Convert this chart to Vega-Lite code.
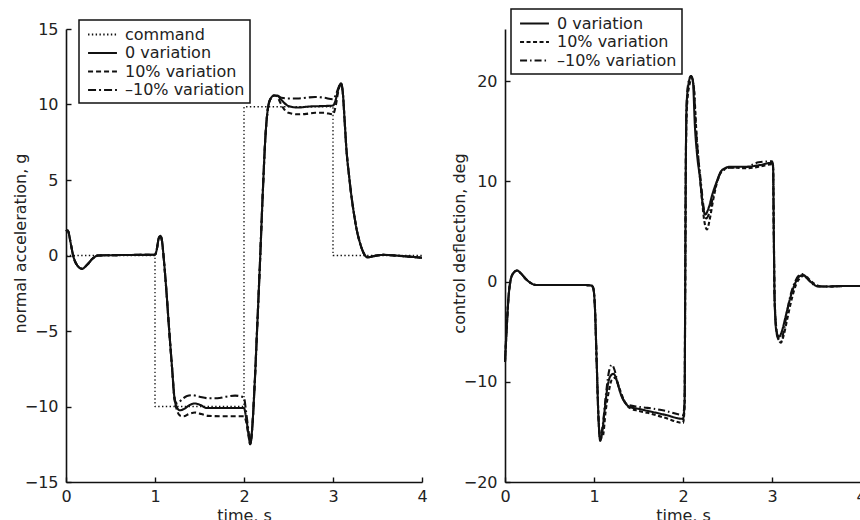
{
  "$schema": "https://vega.github.io/schema/vega-lite/v6.json",
  "padding": {"left": 12, "top": 8, "right": 0, "bottom": 0},
  "autosize": {"type": "pad"},
  "bounds": "flush",
  "spacing": 83,
  "datasets": {
    "cmd": [
      {"t": 0, "v": 0, "s": "command"}, {"t": 1, "v": 0, "s": "command"}, {"t": 1, "v": -10, "s": "command"}, {"t": 2, "v": -10, "s": "command"},
      {"t": 2, "v": 9.85, "s": "command"}, {"t": 3, "v": 9.85, "s": "command"}, {"t": 3, "v": 0, "s": "command"}, {"t": 4, "v": 0, "s": "command"}
    ],
    "accel": [
      {"t":0,"v":1.6,"s":"10% variation"},{"t":0.02,"v":1.65,"s":"10% variation"},{"t":0.05,"v":0.9,"s":"10% variation"},{"t":0.08,"v":0,"s":"10% variation"},{"t":0.12,"v":-0.6,"s":"10% variation"},{"t":0.18,"v":-0.88,"s":"10% variation"},{"t":0.24,"v":-0.6,"s":"10% variation"},{"t":0.3,"v":-0.2,"s":"10% variation"},{"t":0.36,"v":0,"s":"10% variation"},{"t":0.5,"v":0.02,"s":"10% variation"},{"t":0.8,"v":0.04,"s":"10% variation"},{"t":1.0,"v":0.05,"s":"10% variation"},{"t":1.02,"v":0.4,"s":"10% variation"},{"t":1.04,"v":1.1,"s":"10% variation"},{"t":1.06,"v":1.3,"s":"10% variation"},{"t":1.08,"v":0.9,"s":"10% variation"},{"t":1.1,"v":-0.3,"s":"10% variation"},{"t":1.13,"v":-2.5,"s":"10% variation"},{"t":1.16,"v":-5.0,"s":"10% variation"},{"t":1.19,"v":-7.3,"s":"10% variation"},{"t":1.22,"v":-9.5,"s":"10% variation"},
      {"t":1.25,"v":-10.3,"s":"10% variation"},{"t":1.28,"v":-10.6,"s":"10% variation"},{"t":1.32,"v":-10.65,"s":"10% variation"},{"t":1.38,"v":-10.5,"s":"10% variation"},{"t":1.45,"v":-10.4,"s":"10% variation"},{"t":1.52,"v":-10.5,"s":"10% variation"},{"t":1.6,"v":-10.62,"s":"10% variation"},{"t":1.8,"v":-10.65,"s":"10% variation"},{"t":2.0,"v":-10.65,"s":"10% variation"},{"t":2.02,"v":-10.9,"s":"10% variation"},{"t":2.05,"v":-11.9,"s":"10% variation"},
      {"t":2.07,"v":-12.5,"s":"10% variation"},{"t":2.09,"v":-11.6,"s":"10% variation"},{"t":2.12,"v":-8.5,"s":"10% variation"},{"t":2.15,"v":-4.5,"s":"10% variation"},{"t":2.18,"v":-0.4,"s":"10% variation"},{"t":2.21,"v":4.0,"s":"10% variation"},{"t":2.24,"v":7.8,"s":"10% variation"},{"t":2.27,"v":9.8,"s":"10% variation"},{"t":2.3,"v":10.4,"s":"10% variation"},{"t":2.34,"v":10.6,"s":"10% variation"},
      {"t":2.37,"v":10.55,"s":"10% variation"},{"t":2.41,"v":10.1,"s":"10% variation"},{"t":2.45,"v":9.7,"s":"10% variation"},{"t":2.5,"v":9.45,"s":"10% variation"},{"t":2.6,"v":9.35,"s":"10% variation"},{"t":2.7,"v":9.38,"s":"10% variation"},{"t":2.8,"v":9.45,"s":"10% variation"},{"t":2.9,"v":9.45,"s":"10% variation"},{"t":3.0,"v":9.35,"s":"10% variation"},{"t":3.03,"v":9.9,"s":"10% variation"},{"t":3.06,"v":10.9,"s":"10% variation"},
      {"t":3.09,"v":11.4,"s":"10% variation"},{"t":3.11,"v":10.8,"s":"10% variation"},{"t":3.13,"v":9.0,"s":"10% variation"},{"t":3.15,"v":7.1,"s":"10% variation"},{"t":3.18,"v":5.3,"s":"10% variation"},{"t":3.21,"v":3.8,"s":"10% variation"},{"t":3.24,"v":2.6,"s":"10% variation"},{"t":3.27,"v":1.6,"s":"10% variation"},{"t":3.3,"v":0.9,"s":"10% variation"},{"t":3.33,"v":0.35,"s":"10% variation"},{"t":3.36,"v":0,"s":"10% variation"},{"t":3.39,"v":-0.12,"s":"10% variation"},{"t":3.45,"v":-0.05,"s":"10% variation"},{"t":3.56,"v":0.04,"s":"10% variation"},{"t":3.8,"v":-0.05,"s":"10% variation"},{"t":4.0,"v":-0.15,"s":"10% variation"},

      {"t":0,"v":1.6,"s":"–10% variation"},{"t":0.02,"v":1.65,"s":"–10% variation"},{"t":0.05,"v":0.9,"s":"–10% variation"},{"t":0.08,"v":0,"s":"–10% variation"},{"t":0.12,"v":-0.6,"s":"–10% variation"},{"t":0.18,"v":-0.88,"s":"–10% variation"},{"t":0.24,"v":-0.6,"s":"–10% variation"},{"t":0.3,"v":-0.2,"s":"–10% variation"},{"t":0.36,"v":0,"s":"–10% variation"},{"t":0.5,"v":0.02,"s":"–10% variation"},{"t":0.8,"v":0.04,"s":"–10% variation"},{"t":1.0,"v":0.05,"s":"–10% variation"},{"t":1.02,"v":0.4,"s":"–10% variation"},{"t":1.04,"v":1.1,"s":"–10% variation"},{"t":1.06,"v":1.3,"s":"–10% variation"},{"t":1.08,"v":0.9,"s":"–10% variation"},{"t":1.1,"v":-0.3,"s":"–10% variation"},{"t":1.13,"v":-2.5,"s":"–10% variation"},{"t":1.16,"v":-5.0,"s":"–10% variation"},{"t":1.19,"v":-7.3,"s":"–10% variation"},{"t":1.22,"v":-9.5,"s":"–10% variation"},
      {"t":1.25,"v":-9.8,"s":"–10% variation"},{"t":1.3,"v":-9.55,"s":"–10% variation"},{"t":1.36,"v":-9.3,"s":"–10% variation"},{"t":1.42,"v":-9.25,"s":"–10% variation"},{"t":1.5,"v":-9.35,"s":"–10% variation"},{"t":1.6,"v":-9.45,"s":"–10% variation"},{"t":1.7,"v":-9.45,"s":"–10% variation"},{"t":1.8,"v":-9.35,"s":"–10% variation"},{"t":1.9,"v":-9.28,"s":"–10% variation"},{"t":2.0,"v":-9.4,"s":"–10% variation"},{"t":2.02,"v":-10.2,"s":"–10% variation"},{"t":2.05,"v":-11.6,"s":"–10% variation"},
      {"t":2.07,"v":-12.5,"s":"–10% variation"},{"t":2.09,"v":-11.6,"s":"–10% variation"},{"t":2.12,"v":-8.5,"s":"–10% variation"},{"t":2.15,"v":-4.5,"s":"–10% variation"},{"t":2.18,"v":-0.4,"s":"–10% variation"},{"t":2.21,"v":4.0,"s":"–10% variation"},{"t":2.24,"v":7.8,"s":"–10% variation"},{"t":2.27,"v":9.8,"s":"–10% variation"},{"t":2.3,"v":10.4,"s":"–10% variation"},{"t":2.34,"v":10.6,"s":"–10% variation"},
      {"t":2.37,"v":10.6,"s":"–10% variation"},{"t":2.42,"v":10.45,"s":"–10% variation"},{"t":2.5,"v":10.4,"s":"–10% variation"},{"t":2.6,"v":10.4,"s":"–10% variation"},{"t":2.7,"v":10.45,"s":"–10% variation"},{"t":2.8,"v":10.5,"s":"–10% variation"},{"t":2.9,"v":10.45,"s":"–10% variation"},{"t":3.0,"v":10.35,"s":"–10% variation"},{"t":3.03,"v":10.6,"s":"–10% variation"},{"t":3.06,"v":11.1,"s":"–10% variation"},
      {"t":3.09,"v":11.4,"s":"–10% variation"},{"t":3.11,"v":10.8,"s":"–10% variation"},{"t":3.13,"v":9.0,"s":"–10% variation"},{"t":3.15,"v":7.1,"s":"–10% variation"},{"t":3.18,"v":5.3,"s":"–10% variation"},{"t":3.21,"v":3.8,"s":"–10% variation"},{"t":3.24,"v":2.6,"s":"–10% variation"},{"t":3.27,"v":1.6,"s":"–10% variation"},{"t":3.3,"v":0.9,"s":"–10% variation"},{"t":3.33,"v":0.35,"s":"–10% variation"},{"t":3.36,"v":0,"s":"–10% variation"},{"t":3.39,"v":-0.12,"s":"–10% variation"},{"t":3.45,"v":-0.05,"s":"–10% variation"},{"t":3.56,"v":0.04,"s":"–10% variation"},{"t":3.8,"v":-0.05,"s":"–10% variation"},{"t":4.0,"v":-0.15,"s":"–10% variation"},

      {"t":0,"v":1.6,"s":"0 variation"},{"t":0.02,"v":1.65,"s":"0 variation"},{"t":0.05,"v":0.9,"s":"0 variation"},{"t":0.08,"v":0,"s":"0 variation"},{"t":0.12,"v":-0.6,"s":"0 variation"},{"t":0.18,"v":-0.88,"s":"0 variation"},{"t":0.24,"v":-0.6,"s":"0 variation"},{"t":0.3,"v":-0.2,"s":"0 variation"},{"t":0.36,"v":0,"s":"0 variation"},{"t":0.5,"v":0.02,"s":"0 variation"},{"t":0.8,"v":0.04,"s":"0 variation"},{"t":1.0,"v":0.05,"s":"0 variation"},{"t":1.02,"v":0.4,"s":"0 variation"},{"t":1.04,"v":1.1,"s":"0 variation"},{"t":1.06,"v":1.3,"s":"0 variation"},{"t":1.08,"v":0.9,"s":"0 variation"},{"t":1.1,"v":-0.3,"s":"0 variation"},{"t":1.13,"v":-2.5,"s":"0 variation"},{"t":1.16,"v":-5.0,"s":"0 variation"},{"t":1.19,"v":-7.3,"s":"0 variation"},{"t":1.22,"v":-9.5,"s":"0 variation"},
      {"t":1.25,"v":-10.1,"s":"0 variation"},{"t":1.28,"v":-10.25,"s":"0 variation"},{"t":1.33,"v":-10.15,"s":"0 variation"},{"t":1.39,"v":-9.9,"s":"0 variation"},{"t":1.45,"v":-9.8,"s":"0 variation"},{"t":1.51,"v":-9.9,"s":"0 variation"},{"t":1.58,"v":-10.1,"s":"0 variation"},{"t":1.8,"v":-10.1,"s":"0 variation"},{"t":2.0,"v":-10.1,"s":"0 variation"},{"t":2.02,"v":-10.6,"s":"0 variation"},{"t":2.05,"v":-11.8,"s":"0 variation"},
      {"t":2.07,"v":-12.5,"s":"0 variation"},{"t":2.09,"v":-11.6,"s":"0 variation"},{"t":2.12,"v":-8.5,"s":"0 variation"},{"t":2.15,"v":-4.5,"s":"0 variation"},{"t":2.18,"v":-0.4,"s":"0 variation"},{"t":2.21,"v":4.0,"s":"0 variation"},{"t":2.24,"v":7.8,"s":"0 variation"},{"t":2.27,"v":9.8,"s":"0 variation"},{"t":2.3,"v":10.4,"s":"0 variation"},{"t":2.34,"v":10.6,"s":"0 variation"},
      {"t":2.37,"v":10.6,"s":"0 variation"},{"t":2.42,"v":10.3,"s":"0 variation"},{"t":2.5,"v":9.9,"s":"0 variation"},{"t":2.6,"v":9.8,"s":"0 variation"},{"t":2.74,"v":9.87,"s":"0 variation"},{"t":2.9,"v":9.9,"s":"0 variation"},{"t":3.0,"v":9.93,"s":"0 variation"},{"t":3.03,"v":10.3,"s":"0 variation"},{"t":3.06,"v":11.0,"s":"0 variation"},
      {"t":3.09,"v":11.4,"s":"0 variation"},{"t":3.11,"v":10.8,"s":"0 variation"},{"t":3.13,"v":9.0,"s":"0 variation"},{"t":3.15,"v":7.1,"s":"0 variation"},{"t":3.18,"v":5.3,"s":"0 variation"},{"t":3.21,"v":3.8,"s":"0 variation"},{"t":3.24,"v":2.6,"s":"0 variation"},{"t":3.27,"v":1.6,"s":"0 variation"},{"t":3.3,"v":0.9,"s":"0 variation"},{"t":3.33,"v":0.35,"s":"0 variation"},{"t":3.36,"v":0,"s":"0 variation"},{"t":3.39,"v":-0.12,"s":"0 variation"},{"t":3.45,"v":-0.05,"s":"0 variation"},{"t":3.56,"v":0.04,"s":"0 variation"},{"t":3.8,"v":-0.05,"s":"0 variation"},{"t":4.0,"v":-0.15,"s":"0 variation"}
    ],
    "defl": [
      {"t":0,"v":-8.0,"s":"10% variation"},{"t":0.02,"v":-4.5,"s":"10% variation"},{"t":0.04,"v":-1.5,"s":"10% variation"},{"t":0.06,"v":0,"s":"10% variation"},{"t":0.09,"v":0.8,"s":"10% variation"},{"t":0.135,"v":1.1,"s":"10% variation"},{"t":0.18,"v":0.8,"s":"10% variation"},{"t":0.24,"v":0.2,"s":"10% variation"},{"t":0.3,"v":-0.2,"s":"10% variation"},{"t":0.35,"v":-0.35,"s":"10% variation"},{"t":0.6,"v":-0.35,"s":"10% variation"},{"t":0.9,"v":-0.35,"s":"10% variation"},{"t":0.97,"v":-0.4,"s":"10% variation"},{"t":0.99,"v":-0.6,"s":"10% variation"},{"t":1.01,"v":-2.5,"s":"10% variation"},{"t":1.03,"v":-8,"s":"10% variation"},{"t":1.05,"v":-13.5,"s":"10% variation"},
      {"t":1.07,"v":-15.6,"s":"10% variation"},{"t":1.1,"v":-15.4,"s":"10% variation"},{"t":1.13,"v":-13,"s":"10% variation"},{"t":1.17,"v":-10.8,"s":"10% variation"},{"t":1.2,"v":-9.8,"s":"10% variation"},{"t":1.24,"v":-9.6,"s":"10% variation"},{"t":1.28,"v":-10.5,"s":"10% variation"},{"t":1.33,"v":-11.7,"s":"10% variation"},{"t":1.4,"v":-12.6,"s":"10% variation"},{"t":1.5,"v":-12.9,"s":"10% variation"},{"t":1.6,"v":-13.1,"s":"10% variation"},{"t":1.8,"v":-13.6,"s":"10% variation"},{"t":2.0,"v":-14.1,"s":"10% variation"},{"t":2.018,"v":-12.5,"s":"10% variation"},{"t":2.025,"v":0,"s":"10% variation"},{"t":2.032,"v":12,"s":"10% variation"},{"t":2.045,"v":17.5,"s":"10% variation"},{"t":2.07,"v":19.5,"s":"10% variation"},{"t":2.1,"v":20.2,"s":"10% variation"},{"t":2.12,"v":19.6,"s":"10% variation"},{"t":2.15,"v":15,"s":"10% variation"},{"t":2.18,"v":11.5,"s":"10% variation"},{"t":2.21,"v":8.5,"s":"10% variation"},{"t":2.24,"v":6.0,"s":"10% variation"},{"t":2.27,"v":5.2,"s":"10% variation"},{"t":2.3,"v":6.2,"s":"10% variation"},{"t":2.34,"v":8.2,"s":"10% variation"},{"t":2.38,"v":9.8,"s":"10% variation"},{"t":2.42,"v":10.8,"s":"10% variation"},{"t":2.47,"v":11.25,"s":"10% variation"},{"t":2.52,"v":11.4,"s":"10% variation"},{"t":2.7,"v":11.3,"s":"10% variation"},{"t":2.85,"v":11.45,"s":"10% variation"},{"t":3.0,"v":11.7,"s":"10% variation"},{"t":3.012,"v":11.4,"s":"10% variation"},{"t":3.02,"v":5,"s":"10% variation"},{"t":3.03,"v":-2,"s":"10% variation"},{"t":3.06,"v":-5.3,"s":"10% variation"},{"t":3.1,"v":-6.1,"s":"10% variation"},{"t":3.13,"v":-5.4,"s":"10% variation"},{"t":3.17,"v":-3.8,"s":"10% variation"},{"t":3.22,"v":-1.8,"s":"10% variation"},{"t":3.27,"v":-0.3,"s":"10% variation"},{"t":3.32,"v":0.4,"s":"10% variation"},{"t":3.37,"v":0.6,"s":"10% variation"},{"t":3.42,"v":0.2,"s":"10% variation"},{"t":3.48,"v":-0.25,"s":"10% variation"},{"t":3.55,"v":-0.5,"s":"10% variation"},{"t":3.6,"v":-0.5,"s":"10% variation"},{"t":3.8,"v":-0.45,"s":"10% variation"},{"t":4.0,"v":-0.45,"s":"10% variation"},

      {"t":0,"v":-8.0,"s":"–10% variation"},{"t":0.02,"v":-4.5,"s":"–10% variation"},{"t":0.04,"v":-1.5,"s":"–10% variation"},{"t":0.06,"v":0,"s":"–10% variation"},{"t":0.09,"v":0.8,"s":"–10% variation"},{"t":0.135,"v":1.1,"s":"–10% variation"},{"t":0.18,"v":0.8,"s":"–10% variation"},{"t":0.24,"v":0.2,"s":"–10% variation"},{"t":0.3,"v":-0.2,"s":"–10% variation"},{"t":0.35,"v":-0.35,"s":"–10% variation"},{"t":0.6,"v":-0.35,"s":"–10% variation"},{"t":0.9,"v":-0.35,"s":"–10% variation"},{"t":0.97,"v":-0.4,"s":"–10% variation"},{"t":0.99,"v":-0.6,"s":"–10% variation"},{"t":1.01,"v":-2.5,"s":"–10% variation"},{"t":1.03,"v":-8,"s":"–10% variation"},{"t":1.05,"v":-13.5,"s":"–10% variation"},
      {"t":1.07,"v":-15.7,"s":"–10% variation"},{"t":1.1,"v":-14.2,"s":"–10% variation"},{"t":1.14,"v":-10.8,"s":"–10% variation"},{"t":1.17,"v":-8.9,"s":"–10% variation"},{"t":1.2,"v":-8.3,"s":"–10% variation"},{"t":1.23,"v":-8.8,"s":"–10% variation"},{"t":1.27,"v":-10.3,"s":"–10% variation"},{"t":1.32,"v":-11.6,"s":"–10% variation"},{"t":1.38,"v":-12.3,"s":"–10% variation"},{"t":1.5,"v":-12.5,"s":"–10% variation"},{"t":1.6,"v":-12.6,"s":"–10% variation"},{"t":1.8,"v":-12.9,"s":"–10% variation"},{"t":2.0,"v":-13.3,"s":"–10% variation"},{"t":2.018,"v":-12,"s":"–10% variation"},{"t":2.025,"v":0,"s":"–10% variation"},{"t":2.032,"v":12,"s":"–10% variation"},{"t":2.04,"v":17.5,"s":"–10% variation"},{"t":2.06,"v":19.8,"s":"–10% variation"},{"t":2.09,"v":20.5,"s":"–10% variation"},{"t":2.12,"v":19.5,"s":"–10% variation"},{"t":2.145,"v":15.3,"s":"–10% variation"},{"t":2.17,"v":12.5,"s":"–10% variation"},{"t":2.2,"v":10.0,"s":"–10% variation"},{"t":2.23,"v":7.5,"s":"–10% variation"},{"t":2.26,"v":6.3,"s":"–10% variation"},{"t":2.3,"v":7.0,"s":"–10% variation"},{"t":2.34,"v":8.6,"s":"–10% variation"},{"t":2.38,"v":9.9,"s":"–10% variation"},{"t":2.42,"v":10.8,"s":"–10% variation"},{"t":2.47,"v":11.2,"s":"–10% variation"},{"t":2.52,"v":11.35,"s":"–10% variation"},{"t":2.7,"v":11.4,"s":"–10% variation"},{"t":2.85,"v":11.9,"s":"–10% variation"},{"t":3.0,"v":12.0,"s":"–10% variation"},{"t":3.012,"v":11.6,"s":"–10% variation"},{"t":3.02,"v":5,"s":"–10% variation"},{"t":3.03,"v":-2,"s":"–10% variation"},{"t":3.06,"v":-5.5,"s":"–10% variation"},{"t":3.1,"v":-6.0,"s":"–10% variation"},{"t":3.13,"v":-5.0,"s":"–10% variation"},{"t":3.17,"v":-3.0,"s":"–10% variation"},{"t":3.21,"v":-1.3,"s":"–10% variation"},{"t":3.26,"v":0,"s":"–10% variation"},{"t":3.3,"v":0.6,"s":"–10% variation"},{"t":3.34,"v":0.75,"s":"–10% variation"},{"t":3.39,"v":0.35,"s":"–10% variation"},{"t":3.44,"v":-0.1,"s":"–10% variation"},{"t":3.5,"v":-0.45,"s":"–10% variation"},{"t":3.6,"v":-0.5,"s":"–10% variation"},{"t":3.8,"v":-0.45,"s":"–10% variation"},{"t":4.0,"v":-0.45,"s":"–10% variation"},

      {"t":0,"v":-8.0,"s":"0 variation"},{"t":0.02,"v":-4.5,"s":"0 variation"},{"t":0.04,"v":-1.5,"s":"0 variation"},{"t":0.06,"v":0,"s":"0 variation"},{"t":0.09,"v":0.8,"s":"0 variation"},{"t":0.135,"v":1.1,"s":"0 variation"},{"t":0.18,"v":0.8,"s":"0 variation"},{"t":0.24,"v":0.2,"s":"0 variation"},{"t":0.3,"v":-0.2,"s":"0 variation"},{"t":0.35,"v":-0.35,"s":"0 variation"},{"t":0.6,"v":-0.35,"s":"0 variation"},{"t":0.9,"v":-0.35,"s":"0 variation"},{"t":0.97,"v":-0.4,"s":"0 variation"},{"t":0.99,"v":-0.6,"s":"0 variation"},{"t":1.01,"v":-2.5,"s":"0 variation"},{"t":1.03,"v":-8,"s":"0 variation"},{"t":1.05,"v":-13.5,"s":"0 variation"},
      {"t":1.07,"v":-15.9,"s":"0 variation"},{"t":1.09,"v":-15.2,"s":"0 variation"},{"t":1.12,"v":-12.8,"s":"0 variation"},{"t":1.15,"v":-10.6,"s":"0 variation"},{"t":1.18,"v":-9.5,"s":"0 variation"},{"t":1.22,"v":-9.2,"s":"0 variation"},{"t":1.26,"v":-10.0,"s":"0 variation"},{"t":1.3,"v":-11.2,"s":"0 variation"},{"t":1.35,"v":-12.1,"s":"0 variation"},{"t":1.4,"v":-12.5,"s":"0 variation"},{"t":1.5,"v":-12.7,"s":"0 variation"},{"t":1.6,"v":-12.9,"s":"0 variation"},{"t":1.8,"v":-13.3,"s":"0 variation"},{"t":2.0,"v":-13.7,"s":"0 variation"},{"t":2.018,"v":-12,"s":"0 variation"},{"t":2.025,"v":0,"s":"0 variation"},{"t":2.032,"v":12,"s":"0 variation"},{"t":2.04,"v":17.5,"s":"0 variation"},{"t":2.06,"v":19.6,"s":"0 variation"},{"t":2.09,"v":20.5,"s":"0 variation"},{"t":2.11,"v":20.1,"s":"0 variation"},{"t":2.135,"v":15.3,"s":"0 variation"},{"t":2.16,"v":12.5,"s":"0 variation"},{"t":2.19,"v":10.4,"s":"0 variation"},{"t":2.22,"v":7.8,"s":"0 variation"},{"t":2.25,"v":6.7,"s":"0 variation"},{"t":2.29,"v":7.4,"s":"0 variation"},{"t":2.33,"v":8.7,"s":"0 variation"},{"t":2.38,"v":10.0,"s":"0 variation"},{"t":2.42,"v":10.9,"s":"0 variation"},{"t":2.47,"v":11.3,"s":"0 variation"},{"t":2.52,"v":11.45,"s":"0 variation"},{"t":2.7,"v":11.45,"s":"0 variation"},{"t":2.85,"v":11.6,"s":"0 variation"},{"t":3.0,"v":11.85,"s":"0 variation"},{"t":3.012,"v":11.5,"s":"0 variation"},{"t":3.02,"v":5,"s":"0 variation"},{"t":3.03,"v":-2,"s":"0 variation"},{"t":3.05,"v":-5,"s":"0 variation"},{"t":3.08,"v":-5.5,"s":"0 variation"},{"t":3.11,"v":-5,"s":"0 variation"},{"t":3.15,"v":-3.6,"s":"0 variation"},{"t":3.2,"v":-1.8,"s":"0 variation"},{"t":3.25,"v":-0.4,"s":"0 variation"},{"t":3.3,"v":0.45,"s":"0 variation"},{"t":3.35,"v":0.65,"s":"0 variation"},{"t":3.4,"v":0.3,"s":"0 variation"},{"t":3.45,"v":-0.15,"s":"0 variation"},{"t":3.52,"v":-0.5,"s":"0 variation"},{"t":3.6,"v":-0.5,"s":"0 variation"},{"t":3.8,"v":-0.45,"s":"0 variation"},{"t":4.0,"v":-0.45,"s":"0 variation"}
    ]
  },
  "hconcat": [
    {
      "width": 356,
      "height": 453,
      "encoding": {
        "x": {"field": "t", "type": "quantitative", "scale": {"domain": [0, 4], "nice": false},
              "axis": {"values": [0, 1, 2, 3, 4], "title": "time, s", "titleY": 38, "titleBaseline": "alphabetic", "labelFlush": false}},
        "y": {"field": "v", "type": "quantitative", "scale": {"domain": [-15, 15], "nice": false, "zero": false},
              "axis": {"values": [-15, -10, -5, 0, 5, 10, 15], "title": "normal acceleration, g", "titleX": -41, "titleY": 214, "titleBaseline": "alphabetic"}},
        "strokeDash": {"field": "s", "type": "nominal",
          "scale": {"domain": ["command", "0 variation", "10% variation", "–10% variation"], "range": [[1.4, 2.4], [1, 0], [5, 3], [8, 3, 2, 3]]},
          "legend": {"title": null, "orient": "none", "legendX": 13, "legendY": -9}}
      },
      "layer": [
        {"data": {"name": "accel"}, "mark": {"type": "line", "interpolate": "monotone", "color": "#111", "strokeWidth": 2.1}},
        {"data": {"name": "cmd"}, "mark": {"type": "line", "interpolate": "linear", "color": "#111", "strokeWidth": 1.3}}
      ]
    },
    {
      "width": 356,
      "height": 453,
      "data": {"name": "defl"},
      "mark": {"type": "line", "interpolate": "monotone", "color": "#111", "strokeWidth": 2.1},
      "encoding": {
        "x": {"field": "t", "type": "quantitative", "scale": {"domain": [0, 4], "nice": false},
              "axis": {"values": [0, 1, 2, 3, 4], "title": "time, s", "titleY": 38, "titleBaseline": "alphabetic", "labelFlush": false}},
        "y": {"field": "v", "type": "quantitative", "scale": {"domain": [-20, 25.2], "nice": false, "zero": false},
              "axis": {"values": [-20, -10, 0, 10, 20], "title": "control deflection, deg", "titleX": -41, "titleY": 214, "titleBaseline": "alphabetic"}},
        "strokeDash": {"field": "s", "type": "nominal",
          "scale": {"domain": ["0 variation", "10% variation", "–10% variation"], "range": [[1, 0], [4, 2.5], [7, 3, 1.5, 3]]},
          "legend": {"title": null, "orient": "none", "legendX": 6, "legendY": -20}}
      }
    }
  ],
  "resolve": {
    "scale": {"x": "independent", "y": "independent", "strokeDash": "independent"},
    "legend": {"strokeDash": "independent"},
    "axis": {"x": "independent", "y": "independent"}
  },
  "config": {
    "view": {"stroke": null},
    "font": "DejaVu Sans",
    "line": {"strokeCap": "butt", "strokeJoin": "round"},
    "axis": {
      "grid": false, "domainColor": "#111", "domainWidth": 1.6, "tickColor": "#111", "tickWidth": 1.4, "tickSize": -5,
      "labelFont": "DejaVu Sans", "labelFontSize": 16, "labelColor": "#222",
      "titleFont": "DejaVu Sans", "titleFontSize": 16, "titleFontWeight": "normal", "titleColor": "#222"
    },
    "axisX": {"labelPadding": 11},
    "axisY": {"labelPadding": 13},
    "legend": {
      "labelFont": "DejaVu Sans", "labelFontSize": 16, "labelColor": "#222",
      "fillColor": "white", "strokeColor": "#111", "strokeWidth": 1.5, "padding": 5,
      "symbolType": "M-1.7,0H1.7", "symbolSize": 289, "symbolOffset": 9, "labelOffset": 13,
      "rowPadding": 0.5, "symbolStrokeColor": "#111", "symbolStrokeWidth": 1.8
    }
  }
}
